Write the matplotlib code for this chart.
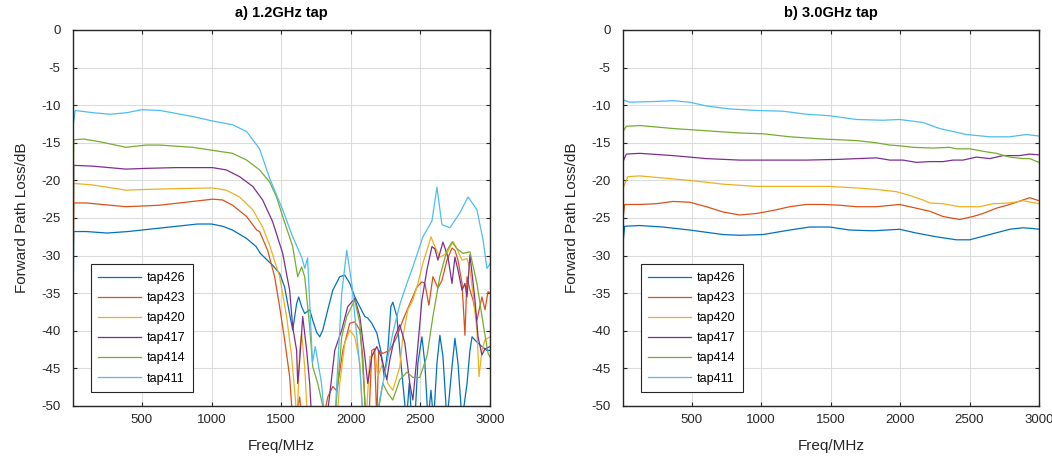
import matplotlib
matplotlib.use("Agg")
import matplotlib.pyplot as plt

plt.rcParams['font.family'] = ['Liberation Sans', 'DejaVu Sans']
plt.rcParams['axes.unicode_minus'] = False

labels = ["tap426", "tap423", "tap420", "tap417", "tap414", "tap411"]
colors = ["#0072BD", "#D95319", "#EDB120", "#7E2F8E", "#77AC30", "#4DBEEE"]

# ---- a) 1.2GHz tap ----
freq_a_426 = [5, 10, 100, 250, 400, 500, 750, 900, 1000, 1080, 1150, 1250, 1320, 1350, 1400, 1440, 1490,
              1525, 1560, 1583, 1611, 1626, 1647, 1669, 1705, 1727, 1755, 1777, 1799, 1835, 1871, 1921,
              1957, 1993, 2029, 2065, 2101, 2122, 2151, 2187, 2215, 2240, 2266, 2288, 2302, 2331, 2352,
              2374, 2400, 2420, 2439, 2460, 2482, 2511, 2532, 2555, 2576, 2595, 2619, 2640, 2662, 2691,
              2727, 2748, 2770, 2799, 2835, 2856, 2871, 2906, 2942, 2978, 3000]
loss_a_426 = [-40, -26.8, -26.8, -27.0, -26.8, -26.6, -26.1, -25.8, -25.8, -26.1, -26.6, -27.7, -28.8,
              -29.7, -30.6, -31.3, -32.4, -34.2, -37.7, -39.9, -36.4, -35.5, -36.8, -37.7, -37.2, -38.6,
              -40.2, -40.8, -39.9, -37.2, -34.6, -32.8, -32.6, -33.7, -35.5, -36.8, -38.1, -38.3, -39.0,
              -40.3, -42.6, -46.1, -42.6, -36.8, -36.2, -38.1, -42.6, -47.0, -52, -47, -52, -52, -44.3,
              -40.8, -44.3, -52, -47.9, -52, -44.3, -40.6, -43.4, -52, -44.8, -41.0, -44.3, -52, -47.0,
              -42.6, -40.8, -41.5, -42.1, -42.6, -42.6]

freq_a_423 = [5, 10, 100, 386, 626, 864, 1007, 1079, 1151, 1252, 1324, 1345, 1403, 1453, 1489, 1525, 1561,
              1583, 1600, 1633, 1650, 1700, 1800, 1835, 1871, 1900, 1943, 1993, 2029, 2065, 2086, 2108,
              2130, 2151, 2170, 2187, 2200, 2230, 2280, 2331, 2374, 2424, 2475, 2511, 2532, 2561, 2590,
              2626, 2655, 2691, 2727, 2748, 2770, 2799, 2820, 2835, 2856, 2878, 2906, 2942, 2964, 2986, 3000]
loss_a_423 = [-38, -23.0, -23.0, -23.5, -23.3, -22.8, -22.5, -22.6, -23.3, -24.8, -26.6, -26.8, -29.3,
              -32.8, -36.8, -41.2, -46.1, -52, -52, -48.8, -52, -52, -52, -48.8, -47.4, -48, -42.6, -39.0,
              -38.8, -39.9, -43.4, -52, -52, -42.6, -42.4, -52, -42.6, -43.0, -42.6, -40.8, -38.6, -36.4,
              -34.2, -33.5, -33.7, -36.6, -32.8, -34.3, -33.3, -30.6, -29.0, -29.3, -30.6, -33.7, -40.6,
              -32.8, -34.6, -35.9, -38.6, -35.5, -37.2, -34.8, -35.0]

freq_a_420 = [5, 10, 144, 386, 530, 746, 1007, 1105, 1201, 1296, 1367, 1417, 1489, 1539, 1575, 1597, 1615,
              1633, 1647, 1669, 1690, 1900, 1921, 1957, 1993, 2029, 2065, 2086, 2110, 2137, 2151, 2173,
              2194, 2230, 2266, 2302, 2352, 2374, 2410, 2446, 2482, 2518, 2547, 2576, 2604, 2640, 2691,
              2734, 2763, 2799, 2835, 2856, 2878, 2906, 2921, 2942, 2964, 3000]
loss_a_420 = [-37, -20.4, -20.6, -21.3, -21.2, -21.1, -21.0, -21.3, -22.2, -23.9, -26.2, -28.6, -32.8,
              -38.1, -43.4, -48, -52, -42.6, -40.3, -44.8, -52, -52, -47, -41.6, -39.9, -40.8, -44.3, -52,
              -52, -43.4, -43.4, -42.6, -46.1, -44.3, -47, -47.9, -44.8, -40.8, -37.2, -35.9, -33.7, -31.0,
              -29.3, -27.5, -28.8, -30.2, -29.7, -28.1, -29.1, -30.6, -30.4, -31.9, -35.0, -39.9, -46.1,
              -42.6, -41.2, -40.8]

freq_a_417 = [5, 10, 144, 386, 530, 746, 1007, 1105, 1201, 1296, 1367, 1439, 1511, 1561, 1583, 1611, 1619,
              1633, 1655, 1683, 1705, 1720, 1827, 1885, 1935, 1978, 2029, 2065, 2101, 2122, 2151, 2187,
              2220, 2259, 2280, 2316, 2352, 2388, 2424, 2446, 2475, 2511, 2547, 2583, 2604, 2626, 2662,
              2698, 2727, 2748, 2770, 2799, 2820, 2835, 2856, 2892, 2914, 2942, 2964, 3000]
loss_a_417 = [-36, -18.0, -18.1, -18.5, -18.4, -18.3, -18.3, -18.6, -19.5, -20.8, -22.6, -25.5, -29.7,
              -34.6, -39.5, -42.6, -47, -44, -38.1, -42.6, -47, -52, -52, -42.6, -39.9, -36.8, -35.7, -38.1,
              -43.4, -47, -43.4, -42.1, -43.5, -46.5, -43.9, -40.8, -39.2, -41.6, -47, -49.2, -43.4, -35.9,
              -31.9, -28.8, -29.1, -30.6, -28.2, -30.2, -33.7, -30.2, -31.9, -34.6, -33.7, -35.5, -29.9,
              -35.9, -40.8, -43.2, -42.4, -42.1]

freq_a_414 = [5, 10, 80, 194, 386, 530, 626, 864, 1007, 1151, 1252, 1345, 1417, 1467, 1511, 1583, 1619,
              1647, 1669, 1705, 1727, 1763, 1799, 1820, 1885, 1935, 1971, 2029, 2065, 2086, 2110, 2187,
              2230, 2266, 2302, 2352, 2403, 2446, 2496, 2547, 2590, 2640, 2691, 2727, 2763, 2806, 2856,
              2906, 2950, 2986, 3000]
loss_a_414 = [-35, -14.6, -14.5, -14.85, -15.6, -15.3, -15.3, -15.6, -16.0, -16.4, -17.3, -18.6, -20.2,
              -22.2, -24.8, -28.8, -32.8, -31.5, -32.8, -39.5, -44.8, -47, -50, -52, -52, -40.8, -38.1,
              -35.9, -39, -44.8, -52, -52, -47, -48.3, -49.2, -46.5, -45.5, -46.2, -46.2, -43.4, -38.1,
              -32.8, -29.3, -28.2, -29.1, -29.7, -29.5, -33.7, -39, -43, -43.5]

freq_a_411 = [5, 20, 150, 270, 390, 500, 630, 864, 1007, 1151, 1252, 1345, 1417, 1511, 1583, 1647, 1670,
              1690, 1725, 1745, 1790, 1813, 1885, 1935, 1971, 2007, 2029, 2065, 2090, 2180, 2209, 2302,
              2352, 2403, 2446, 2518, 2583, 2619, 2655, 2712, 2784, 2842, 2906, 2950, 2978, 3000]
loss_a_411 = [-12.9, -10.7, -11.0, -11.2, -11.0, -10.6, -10.7, -11.5, -12.1, -12.6, -13.5, -15.8, -19.7,
              -23.9, -27.5, -30.2, -31.7, -30.3, -44.3, -42.1, -47, -52, -52, -35, -29.3, -33.7, -38,
              -44.8, -52, -52, -49, -40.3, -36.5, -33.7, -31.5, -27.5, -25.4, -20.9, -25.9, -26.3, -24.3,
              -22.2, -23.9, -27.9, -31.7, -31.1]

# ---- b) 3.0GHz tap ----
freq_b_426 = [5, 17, 125, 293, 485, 725, 845, 1013, 1205, 1349, 1493, 1637, 1805, 1997, 2117, 2261, 2405,
              2501, 2645, 2789, 2885, 2957, 3000]
loss_b_426 = [-28.3, -26.1, -26.0, -26.2, -26.6, -27.2, -27.3, -27.2, -26.6, -26.2, -26.2, -26.6, -26.7,
              -26.5, -27.0, -27.5, -27.9, -27.9, -27.2, -26.5, -26.3, -26.4, -26.5]

freq_b_423 = [5, 17, 125, 245, 365, 485, 605, 725, 845, 965, 1085, 1205, 1325, 1445, 1565, 1685, 1829,
              1997, 2117, 2213, 2309, 2429, 2525, 2597, 2693, 2789, 2885, 2933, 3000]
loss_b_423 = [-25.0, -23.2, -23.2, -23.1, -22.8, -22.9, -23.5, -24.2, -24.6, -24.4, -24.0, -23.5, -23.2,
              -23.2, -23.3, -23.5, -23.5, -23.2, -23.7, -24.1, -24.8, -25.2, -24.8, -24.4, -23.7, -23.2,
              -22.6, -22.3, -22.7]

freq_b_420 = [5, 41, 125, 365, 485, 725, 965, 1205, 1493, 1685, 1829, 1973, 2069, 2165, 2213, 2309, 2429,
              2573, 2669, 2789, 2885, 3000]
loss_b_420 = [-21.0, -19.5, -19.4, -19.8, -20.0, -20.5, -20.8, -20.8, -20.8, -21.0, -21.2, -21.5, -22.0,
              -22.6, -23.0, -23.1, -23.5, -23.5, -23.1, -23.0, -22.7, -23.1]

freq_b_417 = [5, 29, 125, 365, 605, 845, 1085, 1325, 1565, 1829, 1925, 2021, 2117, 2213, 2309, 2381, 2453,
              2549, 2645, 2741, 2861, 2933, 3000]
loss_b_417 = [-17.5, -16.5, -16.4, -16.7, -17.1, -17.3, -17.3, -17.3, -17.2, -17.0, -17.3, -17.3, -17.6,
              -17.5, -17.5, -17.3, -17.3, -16.9, -17.1, -16.7, -16.7, -16.5, -16.6]

freq_b_414 = [5, 29, 125, 365, 605, 845, 1013, 1205, 1445, 1685, 1829, 1925, 1997, 2093, 2237, 2357, 2405,
              2501, 2621, 2693, 2789, 2885, 2933, 3000]
loss_b_414 = [-13.5, -12.8, -12.7, -13.1, -13.4, -13.7, -13.8, -14.2, -14.5, -14.7, -15.0, -15.3, -15.4,
              -15.6, -15.7, -15.6, -15.8, -15.8, -16.2, -16.4, -16.9, -17.1, -17.1, -17.6]

freq_b_411 = [5, 53, 245, 365, 485, 605, 773, 965, 1157, 1325, 1493, 1685, 1877, 1997, 2165, 2285, 2381,
              2477, 2645, 2789, 2909, 3000]
loss_b_411 = [-9.3, -9.6, -9.5, -9.4, -9.6, -10.1, -10.5, -10.7, -10.8, -11.2, -11.4, -11.9, -12.0, -11.9,
              -12.3, -13.1, -13.5, -13.9, -14.2, -14.2, -13.9, -14.1]

panel_a = [(freq_a_426, loss_a_426), (freq_a_423, loss_a_423), (freq_a_420, loss_a_420),
           (freq_a_417, loss_a_417), (freq_a_414, loss_a_414), (freq_a_411, loss_a_411)]
panel_b = [(freq_b_426, loss_b_426), (freq_b_423, loss_b_423), (freq_b_420, loss_b_420),
           (freq_b_417, loss_b_417), (freq_b_414, loss_b_414), (freq_b_411, loss_b_411)]

fig = plt.figure(figsize=(10.52, 4.58), dpi=100)
ax1 = fig.add_axes([73 / 1052, 52 / 458, 417 / 1052, 376 / 458])
ax2 = fig.add_axes([623 / 1052, 52 / 458, 416 / 1052, 376 / 458])

dark = "#262626"
for ax, data, title in [(ax1, panel_a, "a) 1.2GHz tap"), (ax2, panel_b, "b) 3.0GHz tap")]:
    for (f, l), lab, c in zip(data, labels, colors):
        ax.plot(f, l, color=c, lw=0.9, label=lab)
    ax.set_xlim(5, 3000)
    ax.set_ylim(-50, 0)
    ax.set_xticks([500, 1000, 1500, 2000, 2500, 3000])
    ax.set_yticks(range(-50, 1, 5))
    ax.grid(True, color="#dcdcdc", lw=0.8)
    ax.set_axisbelow(True)
    ax.tick_params(direction="in", top=True, right=True, length=3, width=0.8, color=dark,
                   labelsize=9.5, labelcolor=dark)
    ax.tick_params(axis="y", pad=9)
    ax.tick_params(axis="x", pad=6)
    for sp in ax.spines.values():
        sp.set_color(dark)
        sp.set_linewidth(1.0)
    ax.set_title(title, fontsize=10.5, fontweight="bold", color="black", pad=9)
    ax.set_xlabel("Freq/MHz", fontsize=11, color=dark, labelpad=9)
    ax.set_ylabel("Forward Path Loss/dB", fontsize=11, color=dark, labelpad=9)
    leg = ax.legend(loc="lower left", bbox_to_anchor=(0.043, 0.037), borderaxespad=0,
                    fontsize=9, handlelength=3.4, labelspacing=0.65, fancybox=False,
                    framealpha=1, edgecolor=dark, borderpad=0.6, handletextpad=0.5)
    leg.get_frame().set_linewidth(0.8)

fig.savefig("out.png", dpi=100)
